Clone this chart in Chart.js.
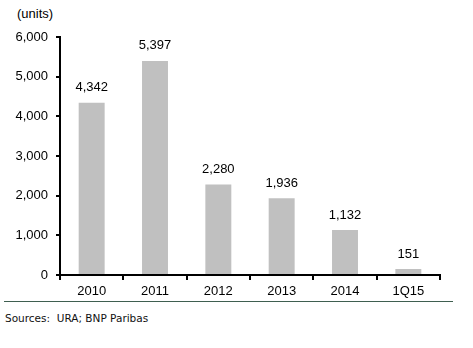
<!DOCTYPE html>
<html>
<head>
<meta charset="utf-8">
<script src="https://cdn.jsdelivr.net/npm/chart.js@4"></script>
<style>
  body { margin: 0; background: #fff; width: 473px; height: 348px; position: relative; overflow: hidden; }
  #wrap { position: absolute; left: 0; top: 0; width: 473px; height: 300px; }
  #units { position: absolute; left: 17px; top: 6px; font: 13px "Liberation Sans", Arial, sans-serif; color: #000; }
  #rule { position: absolute; left: 4px; top: 301px; width: 449px; height: 1px; background: #3f5f50; }
  #src { position: absolute; left: 5px; top: 312px; font: 10.5px "DejaVu Sans", Verdana, sans-serif; color: #111; }
</style>
</head>
<body>
<div id="units">(units)</div>
<div id="wrap"><canvas id="chart"></canvas></div>
<div id="rule"></div>
<div id="src">Sources:&nbsp; URA; BNP Paribas</div>
<script>
const chartCanvas = document.getElementById("chart");

// data
const years = ["2010", "2011", "2012", "2013", "2014", "1Q15"];
const units = [4342, 5397, 2280, 1936, 1132, 151];
const yTicks = [0, 1000, 2000, 3000, 4000, 5000, 6000];

const axisFont = { family: "'Liberation Sans', Arial, sans-serif", size: 13 };

// value labels above the bars
const valueLabels = {
  id: 'valueLabels',
  afterDatasetsDraw(chart) {
    const ctx = chart.ctx;
    const meta = chart.getDatasetMeta(0);
    ctx.save();
    ctx.font = "13px 'Liberation Sans', Arial, sans-serif";
    ctx.fillStyle = '#000';
    ctx.textAlign = 'center';
    ctx.textBaseline = 'middle';
    meta.data.forEach((bar, i) => {
      ctx.fillText(units[i].toLocaleString('en-US'), bar.x, bar.y - 15);
    });
    ctx.restore();
  }
};

let unitsChart = new Chart(chartCanvas, {
  type: 'bar',
  data: {
    labels: years,
    datasets: [{
      data: units,
      backgroundColor: '#c0c0c0',
      borderWidth: 0,
      barPercentage: 0.41,
      categoryPercentage: 1
    }]
  },
  options: {
    responsive: true,
    maintainAspectRatio: false,
    animation: { duration: 0 },
    layout: { padding: { left: 0, top: 37, right: 33, bottom: 0 } },
    plugins: {
      legend: { display: false },
      tooltip: { enabled: false }
    },
    scales: {
      x: {
        grid: { display: true, drawOnChartArea: false, drawTicks: true, tickLength: 5, color: '#000', lineWidth: 2, offset: true },
        border: { display: true, color: '#000', width: 2 },
        ticks: { color: '#000', font: axisFont, padding: 4 },
        afterFit: (scale) => { scale.height = 25; }
      },
      y: {
        min: 0,
        max: 6000,
        afterBuildTicks: (scale) => { scale.ticks = yTicks.map(v => ({ value: v })); },
        grid: { display: true, drawOnChartArea: false, drawTicks: true, tickLength: 4, color: '#000', lineWidth: 2 },
        border: { display: true, color: '#000', width: 2 },
        ticks: {
          color: '#000',
          font: axisFont,
          padding: 8,
          callback: (v) => v.toLocaleString('en-US')
        },
        afterFit: (scale) => { scale.width = 60; }
      }
    }
  },
  plugins: [valueLabels]
});
</script>
</body>
</html>
